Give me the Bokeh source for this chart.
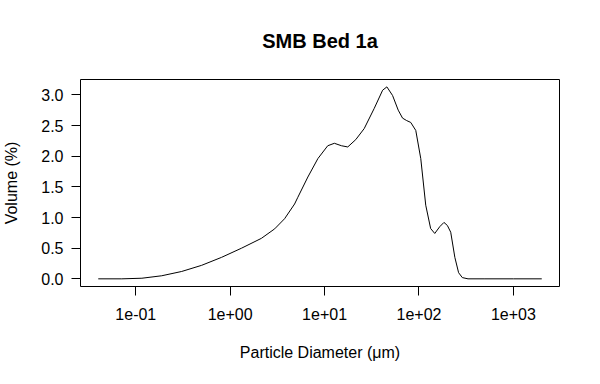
from bokeh.plotting import figure
from bokeh.models import Range1d, FixedTicker, ColumnDataSource
from bokeh.embed import file_html
from bokeh.resources import INLINE

# Particle diameter (um) and volume (%)
diameter = [0.040, 0.071, 0.116, 0.188, 0.306, 0.498, 0.809, 1.32, 2.14,
            2.96, 3.77, 4.81, 5.21, 6.65, 8.49, 10.8, 12.7, 15.1, 17.6,
            21.4, 26.3, 33.6, 41.2, 45.7, 52.5, 60.3, 67.0, 74.1, 81.8,
            92.5, 104.5, 118, 133, 147, 166, 184, 200, 217, 240, 263, 288,
            331, 500, 1000, 2000]
volume = [0.0, 0.0, 0.01, 0.05, 0.12, 0.22, 0.35, 0.50, 0.66,
          0.815, 0.98, 1.22, 1.33, 1.66, 1.96, 2.17, 2.21, 2.17, 2.15,
          2.27, 2.45, 2.78, 3.075, 3.13, 2.99, 2.75, 2.62, 2.58, 2.55,
          2.42, 1.96, 1.20, 0.82, 0.74, 0.85, 0.92, 0.87, 0.76, 0.35, 0.10,
          0.02, 0.0, 0.0, 0.0, 0.0]

x_ticks = [0.1, 1, 10, 100, 1000]
x_tick_labels = ["1e-01", "1e+00", "1e+01", "1e+02", "1e+03"]
y_ticks = [0.0, 0.5, 1.0, 1.5, 2.0, 2.5, 3.0]
y_tick_labels = ["0.0", "0.5", "1.0", "1.5", "2.0", "2.5", "3.0"]

title_text = "SMB Bed 1a"
x_label = "Particle Diameter (\u03bcm)"
y_label = "Volume (%)"

FONT = "Liberation Sans"

p = figure(width=584, height=368, x_axis_type="log",
           x_range=Range1d(0.02594, 3083), y_range=Range1d(-0.125, 3.25),
           output_backend="svg", toolbar_location=None,
           min_border_left=79, min_border_right=25,
           min_border_top=79, min_border_bottom=82,
           title=title_text)

src = ColumnDataSource(dict(x=diameter, y=volume))
p.line("x", "y", source=src, line_color="black", line_width=1)

p.background_fill_color = "white"
p.border_fill_color = "white"
p.outline_line_color = "black"
p.outline_line_width = 1
p.xgrid.visible = False
p.ygrid.visible = False

p.title.align = "center"
p.title.text_font = FONT
p.title.text_font_size = "20px"
p.title.text_font_style = "bold"
p.title.text_color = "black"
p.title.standoff = 55

for ax in (p.xaxis[0], p.yaxis[0]):
    ax.axis_line_color = None
    ax.major_tick_line_color = "black"
    ax.major_tick_out = 9
    ax.major_tick_in = 0
    ax.minor_tick_line_color = None
    ax.major_label_text_font = FONT
    ax.major_label_text_font_size = "16px"
    ax.major_label_text_color = "black"
    ax.axis_label_text_font = FONT
    ax.axis_label_text_font_size = "16px"
    ax.axis_label_text_font_style = "normal"
    ax.axis_label_text_color = "black"

xa = p.xaxis[0]
xa.ticker = FixedTicker(ticks=x_ticks)
xa.major_label_overrides = dict(zip(x_ticks, x_tick_labels))
xa.axis_label = x_label
xa.major_label_standoff = 12
xa.axis_label_standoff = 21

ya = p.yaxis[0]
ya.ticker = FixedTicker(ticks=y_ticks)
ya.major_label_overrides = dict(zip(y_ticks, y_tick_labels))
ya.axis_label = y_label
ya.major_label_standoff = 8
ya.axis_label_standoff = 18

open("out.html", "w").write(file_html(p, INLINE))
